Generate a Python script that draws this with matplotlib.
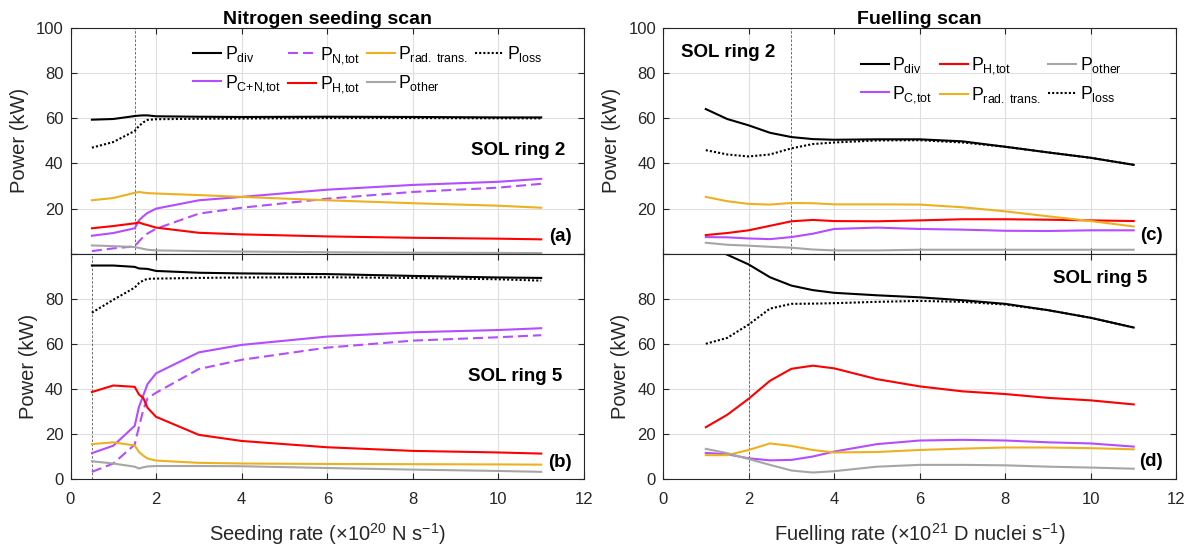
import matplotlib
matplotlib.use("Agg")
import matplotlib.pyplot as plt

plt.rcParams['font.family'] = ['Liberation Sans', 'DejaVu Sans']
plt.rcParams['mathtext.fontset'] = 'custom'
plt.rcParams['mathtext.rm'] = 'Liberation Sans'
plt.rcParams['mathtext.it'] = 'Liberation Sans:italic'
plt.rcParams['mathtext.bf'] = 'Liberation Sans:bold'
plt.rcParams['mathtext.default'] = 'regular'

# ---------------- data ----------------
# Nitrogen seeding scan (x in 1e20 N/s)
seed_rate = [0.5, 1.0, 1.5, 1.6, 1.7, 1.8, 2.0, 3.0, 4.0, 6.0, 8.0, 10.0, 11.0]

r2_seed_div   = [59.4, 59.7, 61.0, 61.2, 61.3, 61.3, 60.9, 60.7, 60.6, 60.7, 60.6, 60.4, 60.4]
r2_seed_loss  = [47.0, 49.5, 54.4, 56.6, 58.2, 59.3, 59.6, 59.8, 59.9, 60.1, 60.1, 60.0, 60.0]
r2_seed_CN    = [8.0, 9.2, 11.3, 14.8, 16.6, 18.1, 20.0, 23.7, 25.2, 28.4, 30.5, 31.9, 33.2]
r2_seed_N     = [1.2, 2.4, 3.3, 5.5, 7.5, 9.0, 11.1, 17.8, 20.4, 24.4, 27.4, 29.3, 31.0]
r2_seed_H     = [11.3, 12.3, 13.5, 13.9, 13.2, 12.7, 11.6, 9.3, 8.6, 7.7, 7.1, 6.7, 6.4]
r2_seed_rad   = [23.7, 24.7, 27.0, 27.4, 27.1, 26.9, 26.7, 26.0, 25.2, 23.7, 22.4, 21.3, 20.4]
r2_seed_other = [3.7, 3.4, 3.0, 2.6, 2.2, 1.8, 1.5, 1.2, 1.0, 0.7, 0.5, 0.4, 0.3]

r5_seed_div   = [94.8, 94.8, 94.2, 93.5, 93.4, 93.3, 92.4, 91.6, 91.3, 91.0, 90.2, 89.5, 89.3]
r5_seed_loss  = [73.9, 79.6, 85.0, 87.0, 88.2, 88.9, 89.0, 89.3, 89.5, 89.6, 89.3, 88.7, 88.1]
r5_seed_CN    = [11.6, 14.9, 23.7, 32.1, 37.2, 42.2, 47.0, 56.3, 59.6, 63.3, 65.2, 66.2, 67.0]
r5_seed_N     = [3.3, 7.0, 15.4, 23.3, 30.7, 35.9, 38.4, 48.9, 53.0, 58.4, 61.5, 63.0, 63.9]
r5_seed_H     = [38.7, 41.6, 41.0, 37.6, 36.1, 31.7, 27.7, 19.7, 17.0, 14.2, 12.6, 11.9, 11.4]
r5_seed_rad   = [15.6, 16.4, 15.0, 12.1, 10.5, 9.2, 8.3, 7.3, 7.0, 6.8, 6.7, 6.6, 6.5]
r5_seed_other = [8.0, 7.0, 5.6, 4.8, 5.3, 5.7, 5.9, 5.9, 5.8, 5.0, 4.3, 3.7, 3.3]

# Fuelling scan (x in 1e21 D nuclei/s)
fuel_rate = [1.0, 1.5, 2.0, 2.5, 3.0, 3.5, 4.0, 5.0, 6.0, 7.0, 8.0, 9.0, 10.0, 11.0]

r2_fuel_div   = [64.1, 59.7, 56.9, 53.6, 51.7, 50.8, 50.5, 50.7, 50.7, 49.8, 47.4, 44.9, 42.5, 39.4]
r2_fuel_loss  = [45.9, 44.0, 43.1, 44.0, 46.7, 48.6, 49.3, 50.2, 50.3, 49.3, 47.4, 44.9, 42.5, 39.4]
r2_fuel_H     = [8.3, 9.2, 10.4, 12.4, 14.4, 15.0, 14.5, 14.4, 14.8, 15.3, 15.3, 15.1, 14.8, 14.5]
r2_fuel_C     = [7.4, 7.3, 6.8, 6.5, 7.4, 8.9, 11.0, 11.6, 11.0, 10.7, 10.2, 10.1, 10.4, 10.4]
r2_fuel_rad   = [25.2, 23.3, 22.1, 21.8, 22.5, 22.4, 21.9, 21.9, 21.8, 20.6, 18.8, 16.6, 14.5, 12.1]
r2_fuel_other = [4.9, 4.0, 3.6, 3.1, 2.7, 1.9, 1.5, 1.5, 1.8, 1.8, 1.8, 1.8, 1.8, 1.8]

r5_fuel_div   = [103.5, 99.6, 95.3, 89.6, 85.9, 83.9, 82.7, 81.6, 80.7, 79.4, 77.8, 75.0, 71.6, 67.3]
r5_fuel_loss  = [60.1, 62.7, 68.6, 75.7, 77.8, 77.9, 78.1, 78.7, 79.1, 78.7, 77.5, 75.0, 71.6, 67.3]
r5_fuel_H     = [23.1, 28.6, 35.7, 43.7, 49.0, 50.4, 49.2, 44.4, 41.2, 39.0, 37.8, 36.1, 35.0, 33.2]
r5_fuel_C     = [11.7, 11.1, 9.3, 8.4, 8.6, 10.1, 12.3, 15.6, 17.2, 17.5, 17.2, 16.4, 15.9, 14.5]
r5_fuel_rad   = [10.7, 10.7, 13.0, 15.9, 14.8, 13.0, 11.9, 12.1, 13.0, 13.6, 14.1, 14.1, 13.8, 13.3]
r5_fuel_other = [13.5, 11.6, 9.0, 6.4, 3.9, 3.0, 3.6, 5.6, 6.4, 6.4, 6.2, 5.6, 5.2, 4.7]

# reference operating points (vertical guides)
seed_ref = [1.5, 0.5]
fuel_ref = [3.0, 2.0]

x_ticks = [0, 2, 4, 6, 8, 10, 12]
y_ticks = [0, 20, 40, 60, 80, 100]

# ---------------- styling ----------------
C_BLACK = '#000000'
C_PURPLE = '#B34DFF'
C_RED = '#FF0000'
C_ORANGE = '#EDB120'
C_GRAY = '#A6A6A6'
AX_COL = '#262626'
LW = 1.5
DOTTED = (0, (1, 1))
DASHED = (0, (4.8, 2.4))

W, H = 1199, 550
fig = plt.figure(figsize=(W / 100, H / 100), dpi=100)


def frac(left_px, top_px, width_px, height_px):
    return [left_px / W, 1 - (top_px + height_px) / H, width_px / W, height_px / H]


ax_a = fig.add_axes(frac(70.5, 28.0, 513.5, 225.8))
ax_b = fig.add_axes(frac(70.5, 253.8, 513.5, 225.5))
ax_c = fig.add_axes(frac(663.0, 28.0, 513.5, 225.8))
ax_d = fig.add_axes(frac(663.0, 253.8, 513.5, 225.5))


def style_axes(ax, top):
    ax.set_xlim(0, 12)
    ax.set_ylim(0, 100)
    ax.set_xticks(x_ticks)
    ax.set_yticks(y_ticks)
    ax.grid(True, color='#dfdfdf', lw=0.8)
    ax.set_axisbelow(True)
    ax.tick_params(direction='in', top=True, right=True, length=4, width=0.8,
                   colors=AX_COL, labelsize=12)
    ax.tick_params(axis='y', pad=5)
    ax.tick_params(axis='x', pad=9)
    for s in ax.spines.values():
        s.set_color(AX_COL)
        s.set_linewidth(0.8)
    if top:
        ax.set_xticklabels([])
        ax.set_yticklabels([''] + [str(v) for v in y_ticks[1:]])
    else:
        ax.set_xticklabels([str(v) for v in x_ticks])
        ax.set_yticklabels([str(v) for v in y_ticks[:-1]] + [''])
    ax.set_ylabel('Power (kW)', fontsize=14.5, color=AX_COL, labelpad=5)


for ax, top in ((ax_a, True), (ax_b, False), (ax_c, True), (ax_d, False)):
    style_axes(ax, top)

# reference-point guides
guide = dict(color='#555555', lw=0.6, ls=(0, (3, 2)), zorder=1.5)
ax_a.axvline(seed_ref[0], **guide)
ax_b.axvline(seed_ref[1], **guide)
ax_c.axvline(fuel_ref[0], **guide)
ax_d.axvline(fuel_ref[1], **guide)

LBL_DIV = r'$P_{div}$'
LBL_CN = r'$P_{C{+}N{,}tot}$'
LBL_N = r'$P_{N{,}tot}$'
LBL_C = r'$P_{C{,}tot}$'
LBL_H = r'$P_{H{,}tot}$'
LBL_RAD = r'$P_{rad.\;trans.}$'
LBL_OTH = r'$P_{other}$'
LBL_LOSS = r'$P_{loss}$'


def seed_panel(ax, div, loss, cn, n, h, rad, other):
    l_div, = ax.plot(seed_rate, div, color=C_BLACK, lw=LW, label=LBL_DIV)
    l_cn, = ax.plot(seed_rate, cn, color=C_PURPLE, lw=LW, label=LBL_CN)
    l_n, = ax.plot(seed_rate, n, color=C_PURPLE, lw=LW, ls=DASHED, label=LBL_N)
    l_h, = ax.plot(seed_rate, h, color=C_RED, lw=LW, label=LBL_H)
    l_rad, = ax.plot(seed_rate, rad, color=C_ORANGE, lw=LW, label=LBL_RAD)
    l_oth, = ax.plot(seed_rate, other, color=C_GRAY, lw=LW, label=LBL_OTH)
    l_loss, = ax.plot(seed_rate, loss, color=C_BLACK, lw=LW, ls=DOTTED, label=LBL_LOSS)
    return [l_div, l_cn, l_n, l_h, l_rad, l_oth, l_loss]


def fuel_panel(ax, div, loss, h, c, rad, other):
    l_div, = ax.plot(fuel_rate, div, color=C_BLACK, lw=LW, label=LBL_DIV)
    l_c, = ax.plot(fuel_rate, c, color=C_PURPLE, lw=LW, label=LBL_C)
    l_h, = ax.plot(fuel_rate, h, color=C_RED, lw=LW, label=LBL_H)
    l_rad, = ax.plot(fuel_rate, rad, color=C_ORANGE, lw=LW, label=LBL_RAD)
    l_oth, = ax.plot(fuel_rate, other, color=C_GRAY, lw=LW, label=LBL_OTH)
    l_loss, = ax.plot(fuel_rate, loss, color=C_BLACK, lw=LW, ls=DOTTED, label=LBL_LOSS)
    return [l_div, l_c, l_h, l_rad, l_oth, l_loss]


h_a = seed_panel(ax_a, r2_seed_div, r2_seed_loss, r2_seed_CN, r2_seed_N,
                 r2_seed_H, r2_seed_rad, r2_seed_other)
seed_panel(ax_b, r5_seed_div, r5_seed_loss, r5_seed_CN, r5_seed_N,
           r5_seed_H, r5_seed_rad, r5_seed_other)
h_c = fuel_panel(ax_c, r2_fuel_div, r2_fuel_loss, r2_fuel_H, r2_fuel_C,
                 r2_fuel_rad, r2_fuel_other)
fuel_panel(ax_d, r5_fuel_div, r5_fuel_loss, r5_fuel_H, r5_fuel_C,
           r5_fuel_rad, r5_fuel_other)

leg_kw = dict(frameon=False, fontsize=12.7, handlelength=1.6, handletextpad=0.2,
              columnspacing=0.4, borderpad=0, borderaxespad=0, labelspacing=0.5,
              loc='upper left', bbox_transform=fig.transFigure)
# matplotlib fills columns first: pairs (div, C+N), (N, H), (rad, other), (loss)
ax_a.legend(h_a, [l.get_label() for l in h_a], ncol=4,
            bbox_to_anchor=(193 / W, 1 - 44 / H), **leg_kw)
ax_c.legend(h_c, [l.get_label() for l in h_c], ncol=3,
            bbox_to_anchor=(860.7 / W, 1 - 55 / H), **leg_kw)

# panel annotations
ann = dict(fontsize=13.5, fontweight='bold', color='#000000', va='baseline')
ax_a.text(0.963, 0.4376, 'SOL ring 2', transform=ax_a.transAxes, ha='right', **ann)
ax_a.text(0.976, 0.057, '(a)', transform=ax_a.transAxes, ha='right', **ann)
ax_b.text(0.958, 0.437, 'SOL ring 5', transform=ax_b.transAxes, ha='right', **ann)
ax_b.text(0.976, 0.055, '(b)', transform=ax_b.transAxes, ha='right', **ann)
ax_c.text(0.035, 0.870, 'SOL ring 2', transform=ax_c.transAxes, ha='left', **ann)
ax_c.text(0.973, 0.061, '(c)', transform=ax_c.transAxes, ha='right', **ann)
ax_d.text(0.9435, 0.869, 'SOL ring 5', transform=ax_d.transAxes, ha='right', **ann)
ax_d.text(0.973, 0.059, '(d)', transform=ax_d.transAxes, ha='right', **ann)

ax_a.set_title('Nitrogen seeding scan', fontsize=14, fontweight='bold', pad=2.5)
ax_c.set_title('Fuelling scan', fontsize=14, fontweight='bold', pad=2.5)

ax_b.set_xlabel('Seeding rate (\u00d710$^{20}$ N s$^{-1}$)', fontsize=14.5,
                color=AX_COL, labelpad=10)
ax_d.set_xlabel('Fuelling rate (\u00d710$^{21}$ D nuclei s$^{-1}$)', fontsize=14.5,
                color=AX_COL, labelpad=10)

fig.savefig('out.png', dpi=100)
